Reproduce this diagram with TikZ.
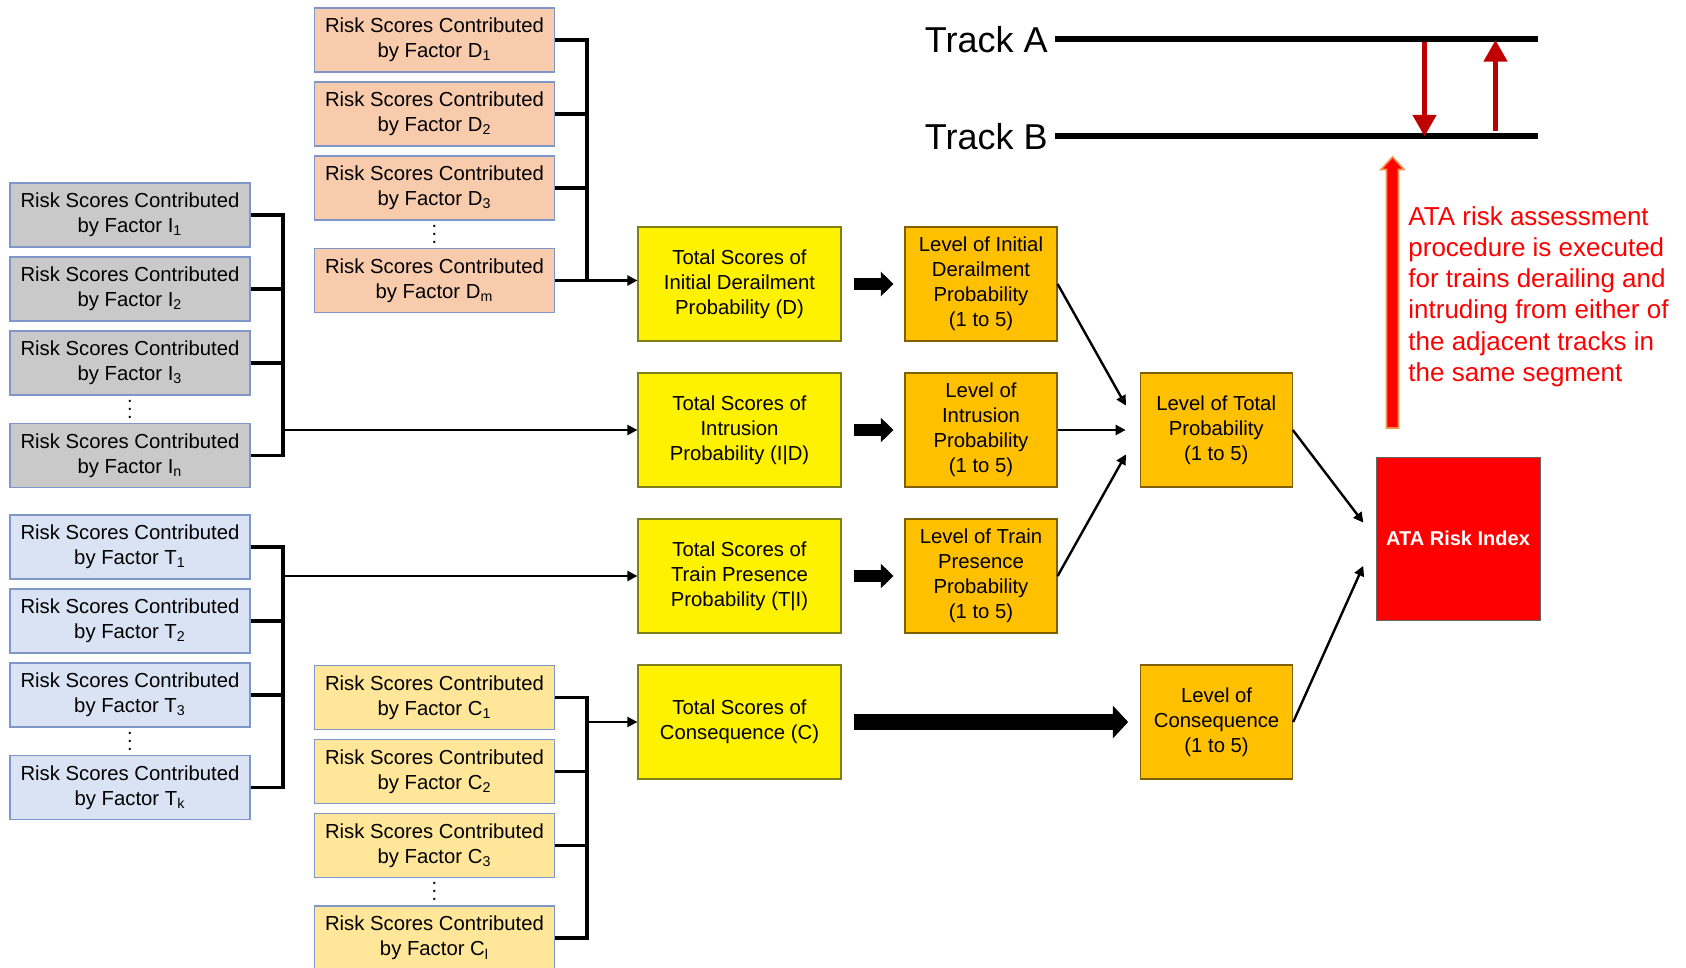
\documentclass[tikz,border=0pt]{standalone}
\usepackage{fontspec}
\setmainfont{Liberation Sans}
\usetikzlibrary{positioning, calc, arrows.meta}
\definecolor{factorD}{HTML}{F8CBAD}
\definecolor{factorI}{HTML}{C9C9C9}
\definecolor{factorT}{HTML}{DAE3F3}
\definecolor{factorC}{HTML}{FFE699}
\definecolor{boxline}{HTML}{7F96C9}
\definecolor{totline}{HTML}{7F7F1A}
\definecolor{lvlfill}{HTML}{FFC000}
\definecolor{lvlline}{HTML}{7F6000}
\definecolor{darkred}{HTML}{C00000}
\definecolor{arrowedge}{HTML}{F4924A}
\newcommand\linestrut{\rule[-2.2pt]{0pt}{11.4pt}}

\begin{document}
\begin{tikzpicture}[x=0.5pt, y=-0.5pt, node distance=4.4pt,
        % Styles for the boxes
        basebox/.style={rectangle, inner sep=0pt, align=center,
            font=\fontsize{10.15pt}{12.5pt}\selectfont,
            execute at begin node=\linestrut, execute at end node=\linestrut},
        riskbox/.style={basebox, draw=boxline, line width=0.6pt,
            minimum width=120pt, minimum height=32pt},
        riskD/.style={riskbox, fill=factorD},
        riskI/.style={riskbox, fill=factorI},
        riskT/.style={riskbox, fill=factorT},
        riskC/.style={riskbox, fill=factorC},
        totbox/.style={basebox, fill=yellow, draw=totline, line width=0.6pt,
            minimum width=101.5pt, minimum height=57pt},
        lvlbox/.style={basebox, fill=lvlfill, draw=lvlline, line width=0.6pt,
            minimum width=76pt, minimum height=57pt},
        ata/.style={basebox, fill=red, draw=black!60, line width=0.5pt,
            minimum width=82pt, minimum height=81.5pt, text=white,
            font=\fontsize{10pt}{12pt}\selectfont\bfseries},
        dots/.style={inner sep=0pt, text height=9.1pt, text depth=0pt},
        tracklabel/.style={anchor=east, inner xsep=3.5pt, inner ysep=0pt,
            font=\fontsize{18pt}{20pt}\selectfont},
        note/.style={anchor=north west, inner sep=0pt, align=left, text=red,
            font=\fontsize{13pt}{15.6pt}\selectfont},
        % Styles for the lines
        bus/.style={line width=1.8pt},
        feed/.style={line width=1.1pt, -{Triangle[width=5pt,length=5pt]}},
        link/.style={line width=1.2pt, -{Triangle[width=5pt,length=5pt]}},
        fat/.style={line width=6pt, -{Triangle[width=12pt,length=6.3pt]},
            shorten <=6pt, shorten >=5.5pt},
        widefat/.style={line width=8.3pt, -{Triangle[width=16pt,length=7.7pt]},
            shorten <=6pt, shorten >=5.9pt},
        track/.style={line width=3pt},
        move/.style={darkred, line width=2.5pt, -{Triangle[width=11.4pt,length=10.8pt]}}
    ]
    \useasboundingbox (0,0) rectangle (1686,968);

    % Factor boxes D
    \node[riskD] (D1) at (434.5,40) {Risk Scores Contributed\\by Factor D\textsubscript{1}};
    \node[riskD, below=of D1] (D2) {Risk Scores Contributed\\by Factor D\textsubscript{2}};
    \node[riskD, below=of D2] (D3) {Risk Scores Contributed\\by Factor D\textsubscript{3}};
    \node[riskD, below=13.65pt of D3] (Dm) {Risk Scores Contributed\\by Factor D\textsubscript{m}};
    \node[dots] (Ddots) at ($(D3)!0.5!(Dm)$) {$\vdots$};

    % Factor boxes I
    \node[riskI] (I1) at (130,215) {Risk Scores Contributed\\by Factor I\textsubscript{1}};
    \node[riskI, below=of I1] (I2) {Risk Scores Contributed\\by Factor I\textsubscript{2}};
    \node[riskI, below=of I2] (I3) {Risk Scores Contributed\\by Factor I\textsubscript{3}};
    \node[riskI, below=13.65pt of I3] (In) {Risk Scores Contributed\\by Factor I\textsubscript{n}};
    \node[dots] (Idots) at ($(I3)!0.5!(In)$) {$\vdots$};

    % Factor boxes T
    \node[riskT] (T1) at (130,547) {Risk Scores Contributed\\by Factor T\textsubscript{1}};
    \node[riskT, below=of T1] (T2) {Risk Scores Contributed\\by Factor T\textsubscript{2}};
    \node[riskT, below=of T2] (T3) {Risk Scores Contributed\\by Factor T\textsubscript{3}};
    \node[riskT, below=13.65pt of T3] (Tk) {Risk Scores Contributed\\by Factor T\textsubscript{k}};
    \node[dots] (Tdots) at ($(T3)!0.5!(Tk)$) {$\vdots$};

    % Factor boxes C
    \node[riskC] (C1) at (434.5,697.5) {Risk Scores Contributed\\by Factor C\textsubscript{1}};
    \node[riskC, below=of C1] (C2) {Risk Scores Contributed\\by Factor C\textsubscript{2}};
    \node[riskC, below=of C2] (C3) {Risk Scores Contributed\\by Factor C\textsubscript{3}};
    \node[riskC, below=13.65pt of C3] (Cl) {Risk Scores Contributed\\by Factor C\textsubscript{l}};
    \node[dots] (Cdots) at ($(C3)!0.5!(Cl)$) {$\vdots$};

    % Total scores and levels
    \node[totbox] (totD) at (739.5,284) {Total Scores of\\Initial Derailment\\Probability (D)};
    \node[totbox, below=15.4pt of totD] (totI) {Total Scores of\\Intrusion\\Probability (I|D)};
    \node[totbox, below=15.4pt of totI] (totT) {Total Scores of\\Train Presence\\Probability (T|I)};
    \node[totbox, below=15.4pt of totT] (totC) {Total Scores of\\Consequence (C)};
    \node[lvlbox, right=31.4pt of totD] (lvlD) {Level of Initial\\Derailment\\Probability\\(1 to 5)};
    \node[lvlbox, right=31.4pt of totI] (lvlI) {Level of\\Intrusion\\Probability\\(1 to 5)};
    \node[lvlbox, right=31.4pt of totT] (lvlT) {Level of Train\\Presence\\Probability\\(1 to 5)};
    \node[lvlbox, right=41pt of lvlI] (lvlTot) {Level of Total\\Probability\\(1 to 5)};
    \node[lvlbox, right=149.2pt of totC] (lvlC) {Level of\\Consequence\\(1 to 5)};
    \node[ata] (ata) at (1458,538.5) {ATA Risk Index};

    % Tracks
    \node[tracklabel] (trackA) at (1055,39.5) {Track A};
    \node[tracklabel] (trackB) at (1055,136.5) {Track B};
    \coordinate (endA) at (1538,39.5);
    \coordinate (endB) at (1538,136.5);
    \coordinate (downA) at (1424.5,42);
    \coordinate (downB) at (1424.5,136.5);
    \coordinate (upB) at (1495.5,131);
    \coordinate (upA) at (1495.5,40);
    \node[note] (remark) at (1408,206) {ATA risk assessment\\procedure is executed\\for trains derailing and\\intruding from either of\\the adjacent tracks in\\the same segment};

    % Buses
    \coordinate (Dbus) at (587,0);
    \coordinate (Ibus) at (283,0);
    \coordinate (Tbus) at (283,0);
    \coordinate (Cbus) at (587,0);
    \draw[bus] (D1.east) -- (D1.east -| Dbus) -- (Dm.east -| Dbus) -- (Dm.east);
    \draw[bus] (I1.east) -- (I1.east -| Ibus) -- (In.east -| Ibus) -- (In.east);
    \draw[bus] (T1.east) -- (T1.east -| Tbus) -- (Tk.east -| Tbus) -- (Tk.east);
    \draw[bus] (C1.east) -- (C1.east -| Cbus) -- (Cl.east -| Cbus) -- (Cl.east);
    \foreach \n in {2,3} {
        \draw[bus] (D\n.east) -- (D\n.east -| Dbus);
        \draw[bus] (I\n.east) -- (I\n.east -| Ibus);
        \draw[bus] (T\n.east) -- (T\n.east -| Tbus);
        \draw[bus] (C\n.east) -- (C\n.east -| Cbus);
    }

    % Lines
    \draw[feed] (Dm.east -| Dbus) -- (Dm.east -| totD.west);
    \draw[feed] (Ibus |- totI) -- (totI.west);
    \draw[feed] (Tbus |- totT) -- (totT.west);
    \draw[feed] (Cbus |- totC) -- (totC.west);
    \draw[fat] (totD) -- (lvlD);
    \draw[fat] (totI) -- (lvlI);
    \draw[fat] (totT) -- (lvlT);
    \draw[widefat] (totC) -- (lvlC);
    \draw[link, shorten >=14pt] (lvlD.east) -- (lvlTot.west);
    \draw[link, shorten >=7pt] (lvlI.east) -- (lvlTot.west);
    \draw[link, shorten >=14pt] (lvlT.east) -- (lvlTot.west);
    \draw[link, shorten >=10pt] (lvlTot.east) -- (ata.west);
    \draw[link, shorten >=15pt] (lvlC.east) -- (ata.west);

    % Track lines and moves
    \draw[track] (trackA.east) -- (endA);
    \draw[track] (trackB.east) -- (endB);
    \draw[move] (downA) -- (downB);
    \draw[move] (upB) -- (upA);
    \draw[fill=red, draw=arrowedge, line width=0.8pt]
        (1386.5,428) -- (1386.5,169.5) -- (1381,169.5) -- (1392.5,157)
        -- (1404,169.5) -- (1398.5,169.5) -- (1398.5,428) -- cycle;

\end{tikzpicture}
\end{document}
